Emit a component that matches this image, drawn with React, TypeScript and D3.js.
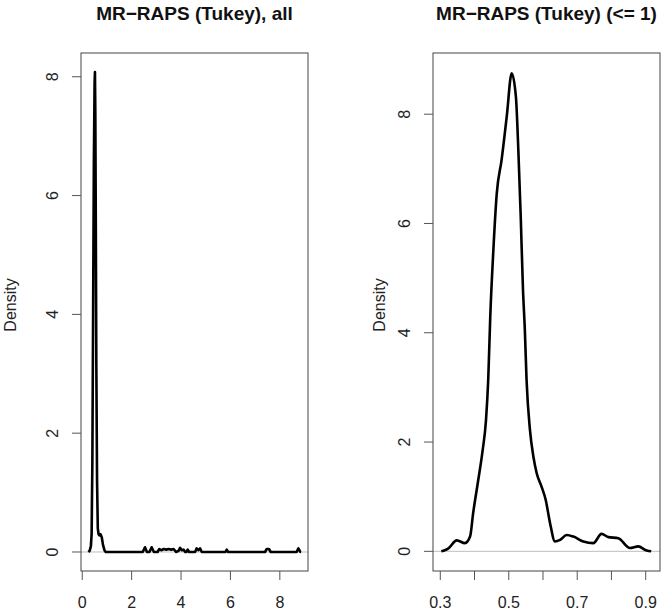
import * as d3 from 'd3';

// density of all values (x, density)
const allDensity: [number, number][] = [
  [0.25, 0], [0.3, 0.02], [0.35, 0.1], [0.38, 0.3], [0.41, 1.5], [0.44, 4.0],
  [0.47, 6.5], [0.5, 7.9], [0.515, 8.08], [0.53, 7.4], [0.55, 5.5], [0.57, 3.2],
  [0.6, 1.2], [0.63, 0.4], [0.66, 0.3], [0.7, 0.28], [0.74, 0.3], [0.79, 0.25],
  [0.84, 0.12], [0.9, 0.03], [0.95, 0],
  [2.45, 0], [2.54, 0.08], [2.62, 0], [2.72, 0], [2.81, 0.08], [2.9, 0],
  [3.05, 0], [3.12, 0.05], [3.2, 0.03], [3.3, 0.05], [3.4, 0.04], [3.5, 0.05],
  [3.6, 0.04], [3.7, 0.05], [3.8, 0], [3.9, 0.02], [3.96, 0.07], [4.03, 0.03],
  [4.1, 0.04], [4.17, 0], [4.22, 0], [4.27, 0.04], [4.33, 0], [4.57, 0],
  [4.63, 0.06], [4.7, 0.03], [4.77, 0.06], [4.84, 0], [5.8, 0], [5.85, 0.04],
  [5.91, 0], [7.4, 0], [7.47, 0.05], [7.56, 0.05], [7.63, 0], [8.68, 0],
  [8.75, 0.06], [8.83, 0], [8.86, 0],
];

// density of values <= 1
const subDensity: [number, number][] = [
  [0.303, 0], [0.309, 0.01], [0.323, 0.05], [0.348, 0.2], [0.372, 0.15],
  [0.387, 0.27], [0.396, 0.7], [0.411, 1.31], [0.424, 1.86], [0.4335, 2.4],
  [0.44, 3.14], [0.446, 4.3], [0.455, 5.51], [0.465, 6.55], [0.479, 7.16],
  [0.494, 7.95], [0.5086, 8.75], [0.521, 8.31], [0.528, 7.34], [0.535, 6.12],
  [0.5415, 4.8], [0.547, 4.05], [0.552, 3.14], [0.562, 2.22], [0.572, 1.73],
  [0.5816, 1.43], [0.596, 1.18], [0.608, 0.94], [0.6205, 0.52], [0.635, 0.18],
  [0.65, 0.21], [0.669, 0.3], [0.689, 0.27], [0.718, 0.18], [0.747, 0.15],
  [0.771, 0.32], [0.791, 0.26], [0.82, 0.24], [0.854, 0.06], [0.878, 0.09],
  [0.903, 0.015], [0.916, 0],
];

const yTicks = [0, 2, 4, 6, 8];
const allXTicks = [0, 2, 4, 6, 8];
const subXTicks = [0.3, 0.4, 0.5, 0.6, 0.7, 0.8, 0.9];
const subXLabels = [0.3, 0.5, 0.7, 0.9];

const FONT = '"Liberation Sans", Arial, sans-serif';

interface PanelProps {
  left: number;
  title: string;
  data: [number, number][];
  xDomain: [number, number];
  yDomain: [number, number];
  xTicks: number[];
  xLabels: number[];
  smooth: boolean;
  ylabOffset: number;
}

function Panel({ left, title, data, xDomain, yDomain, xTicks, xLabels, smooth, ylabOffset }: PanelProps) {
  const top = 53;
  const bottom = 571;
  const w = 227;
  const x = d3.scaleLinear().domain(xDomain).range([left, left + w]);
  const y = d3.scaleLinear().domain(yDomain).range([bottom, top]);

  const line = d3
    .line<[number, number]>()
    .x((d) => x(d[0]))
    .y((d) => y(d[1]))
    .curve(smooth ? d3.curveMonotoneX : d3.curveLinear);

  return (
    <g>
      <text
        x={left + w / 2}
        y={20}
        textAnchor="middle"
        fontFamily={FONT}
        fontWeight="bold"
        fontSize={19}
        fill="#111"
      >
        {title}
      </text>
      <line x1={left} x2={left + w} y1={y(0)} y2={y(0)} stroke="#bebebe" strokeWidth={1} />
      <path d={line(data) ?? ''} fill="none" stroke="#000" strokeWidth={2.6} strokeLinejoin="round" />
      <rect x={left} y={top} width={w} height={bottom - top} fill="none" stroke="#444" strokeWidth={1} />
      {yTicks.map((t) => (
        <g key={'y' + t}>
          <line x1={left - 9} x2={left} y1={y(t)} y2={y(t)} stroke="#555" />
          <text
            transform={`translate(${left - 23},${y(t)}) rotate(-90)`}
            textAnchor="middle"
            fontFamily={FONT}
            fontSize={16}
            fill="#222"
          >
            {t}
          </text>
        </g>
      ))}
      {xTicks.map((t) => (
        <line key={'x' + t} x1={x(t)} x2={x(t)} y1={bottom} y2={bottom + 9} stroke="#555" />
      ))}
      {xLabels.map((t) => (
        <text
          key={'xl' + t}
          x={x(t)}
          y={607.5}
          textAnchor="middle"
          fontFamily={FONT}
          fontSize={16}
          fill="#222"
        >
          {t}
        </text>
      ))}
      <text
        transform={`translate(${left - ylabOffset},${305}) rotate(-90)`}
        textAnchor="middle"
        fontFamily={FONT}
        fontSize={16}
        fill="#222"
      >
        Density
      </text>
    </g>
  );
}

export default function App() {
  return (
    <svg
      width={666}
      height={611}
      style={{ position: 'absolute', left: 0, top: 0, background: '#fff' }}
    >
      <Panel
        left={81}
        title="MR−RAPS (Tukey), all"
        data={allDensity}
        xDomain={[-0.05, 9.14]}
        yDomain={[-0.32, 8.4]}
        xTicks={allXTicks}
        xLabels={allXTicks}
        smooth={false}
        ylabOffset={65}
      />
      <Panel
        left={433}
        title="MR−RAPS (Tukey) (<= 1)"
        data={subDensity}
        xDomain={[0.2787, 0.9418]}
        yDomain={[-0.36, 9.12]}
        xTicks={subXTicks}
        xLabels={subXLabels}
        smooth={true}
        ylabOffset={48}
      />
    </svg>
  );
}
